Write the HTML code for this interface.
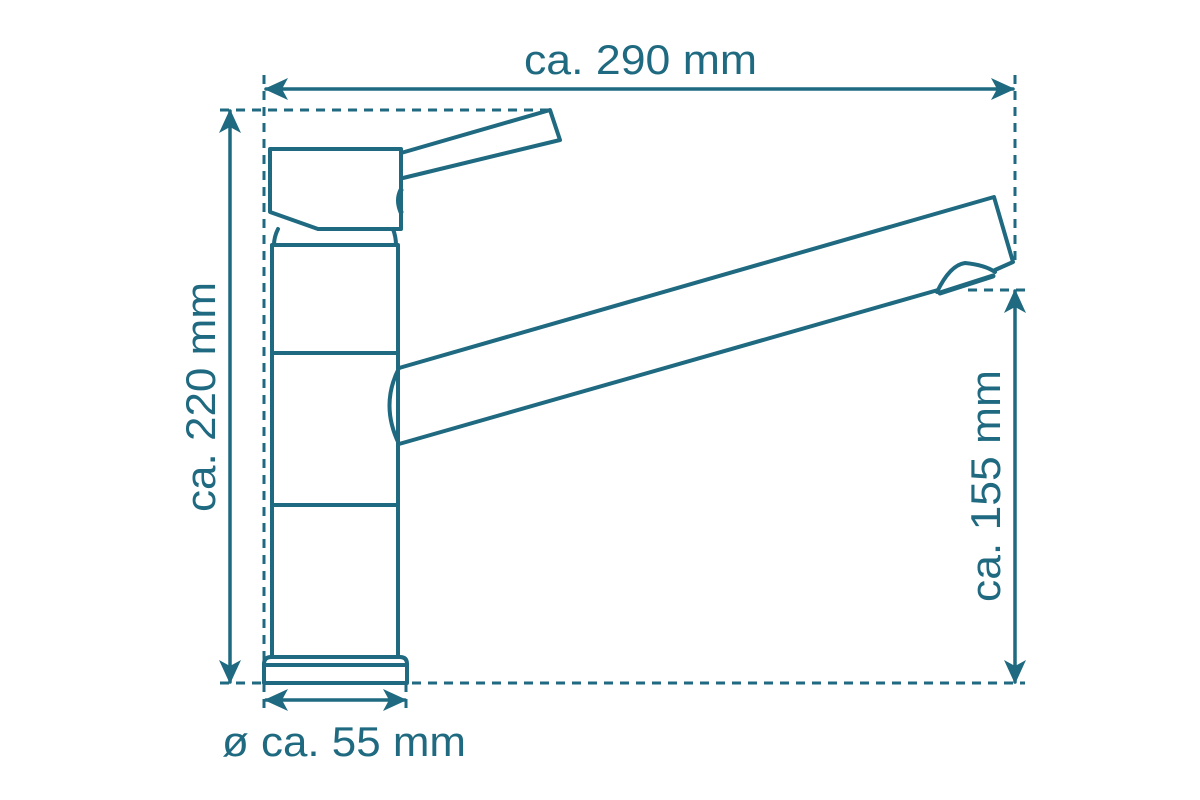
<!DOCTYPE html>
<html><head><meta charset="utf-8"><style>html,body{margin:0;padding:0;background:#fff}svg{display:block}</style></head>
<body>
<svg width="1200" height="800" viewBox="0 0 1200 800" xmlns="http://www.w3.org/2000/svg">
<defs>
<marker id="ah" viewBox="0 0 24 24" refX="22" refY="12" markerWidth="24" markerHeight="24" markerUnits="userSpaceOnUse" orient="auto-start-reverse">
<path d="M0,1 L24,12 L0,23 L6,12 Z" fill="#1f6a80"/>
</marker>
</defs>
<g stroke="#1f6a80" fill="none" stroke-width="4" stroke-linejoin="round" stroke-linecap="round">
<g stroke-dasharray="9,7" stroke-linecap="butt" stroke-width="3">
<line x1="264" y1="75" x2="264" y2="712"/>
<line x1="1015" y1="75" x2="1015" y2="262"/>
<line x1="220" y1="110" x2="550" y2="110"/>
<line x1="220" y1="683" x2="1025" y2="683"/>
<line x1="968" y1="290" x2="1025" y2="290"/>
<line x1="406" y1="683" x2="406" y2="712"/>
</g>
<g stroke-width="3.5">
<line x1="266" y1="89" x2="1013" y2="89" marker-start="url(#ah)" marker-end="url(#ah)"/>
<line x1="230" y1="111" x2="230" y2="682" marker-start="url(#ah)" marker-end="url(#ah)"/>
<line x1="1015" y1="291" x2="1015" y2="682" marker-start="url(#ah)" marker-end="url(#ah)"/>
<line x1="266" y1="700" x2="405" y2="700" marker-start="url(#ah)" marker-end="url(#ah)"/>
</g>
<path d="M270,149 L401,149 L401,229 L318,229 L270,212 Z"/>
<path d="M401,153 L550,110 L560,140 L403,178"/>
<path d="M401,190 Q396,200 401,212" stroke-width="5"/>
<path d="M278,229 Q274,237 274,245 M393,229 Q396,237 396,245"/>
<path d="M272,245 L398,245 M272,245 L272,657 M398,245 L398,657"/>
<line x1="272" y1="353" x2="398" y2="353"/>
<line x1="272" y1="505" x2="398" y2="505"/>
<path d="M264,683 L264,664 Q264,657 271,657 L400,657 Q407,657 407,664 L407,683 Z"/>
<line x1="264" y1="665" x2="407" y2="665"/>
<path d="M399,368 L994,197 L1013,262 L995,270"/>
<path d="M399,368 Q380,405 399,444 L938,290"/>
<path d="M937,292 Q950,265 965,263 Q985,265 995,272"/>
<path d="M940,293 L993,276" stroke-width="5"/>
</g>
<g fill="#1f6a80" font-family="Liberation Sans, sans-serif" font-size="42">
<text x="524" y="74" textLength="233" lengthAdjust="spacingAndGlyphs">ca. 290 mm</text>
<text x="222" y="756" textLength="244" lengthAdjust="spacingAndGlyphs">ø ca. 55 mm</text>
<text transform="translate(215,512) rotate(-90)" textLength="230" lengthAdjust="spacingAndGlyphs">ca. 220 mm</text>
<text transform="translate(1000,602) rotate(-90)" textLength="232" lengthAdjust="spacingAndGlyphs">ca. 155 mm</text>
</g>
</svg>
</body></html>
